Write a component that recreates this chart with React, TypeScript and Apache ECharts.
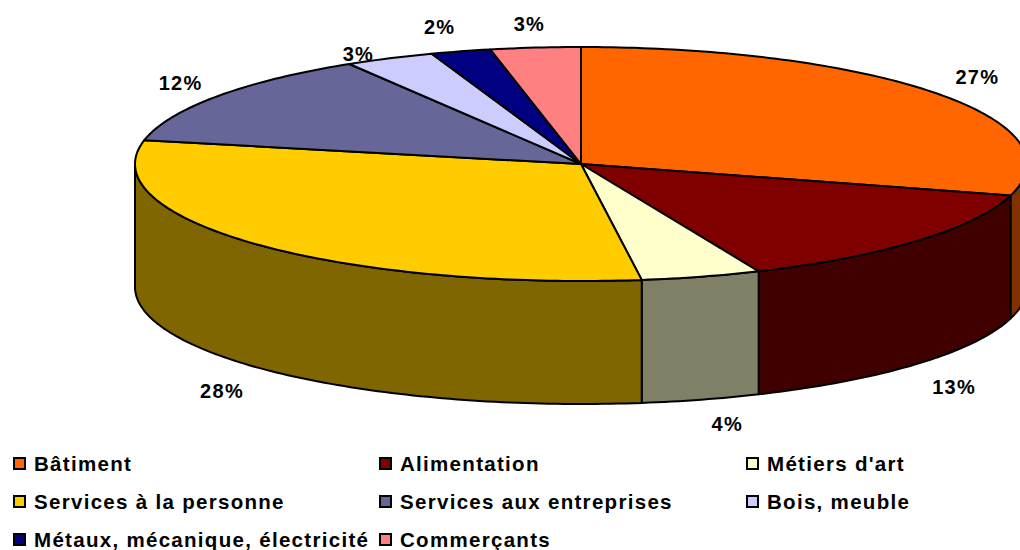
import React, { useEffect, useRef } from "react";
import * as echarts from "echarts";

const categories = [
  "Bâtiment",
  "Alimentation",
  "Métiers d'art",
  "Services à la personne",
  "Services aux entreprises",
  "Bois, meuble",
  "Métaux, mécanique, électricité",
  "Commerçants",
];
const values = [27, 13, 4, 28, 12, 3, 2, 3];
const topColors = ["#FF6600", "#800000", "#FFFFCC", "#FFCC00", "#666699", "#CCCCFF", "#000080", "#FF8080"];
const wallColors = ["#803300", "#400000", "#808066", "#806600", "#33334D", "#666680", "#000040", "#804040"];
const labelOffsets = [
  [41, -16],
  [37, 146],
  [26, 147],
  [-33, 147],
  [-36, -14],
  [-31, -4],
  [-21, -24],
  [-6, -24],
];
const legendColumns = [
  [categories[0], categories[3], categories[6]],
  [categories[1], categories[4], categories[7]],
  [categories[2], categories[5]],
];
const legendLefts = [13, 379, 746];

const CX = 581;
const CY = 164;
const RX = 446;
const RY = 117;
const DEPTH = 123;

const total = values.reduce((a, b) => a + b, 0);
const rad = (d: number) => (d * Math.PI) / 180;
const rim = (deg: number, dy = 0): number[] => [
  CX + RX * Math.sin(rad(deg)),
  CY - RY * Math.cos(rad(deg)) + dy,
];
const arc = (from: number, to: number, dy = 0): number[][] => {
  const out: number[][] = [];
  const n = Math.max(2, Math.ceil(Math.abs(to - from)));
  for (let i = 0; i <= n; i++) out.push(rim(from + ((to - from) * i) / n, dy));
  return out;
};

export default function App() {
  const ref = useRef<HTMLDivElement>(null);
  useEffect(() => {
    if (!ref.current) return;
    const chart = echarts.init(ref.current, undefined, { renderer: "svg" });
    let acc = 0;
    const series = values.map((v, i) => {
      const start = (acc / total) * 360;
      acc += v;
      const end = (acc / total) * 360;
      return {
        type: "custom",
        name: categories[i],
        coordinateSystem: "none",
        silent: true,
        itemStyle: { color: topColors[i] },
        data: [[v]],
        renderItem: () => {
          const children: any[] = [];
          const wa = Math.max(start, 90);
          const wb = Math.min(end, 270);
          if (wb > wa) {
            children.push({
              type: "polygon",
              shape: { points: [...arc(wa, wb), ...arc(wb, wa, DEPTH)] },
              style: { fill: wallColors[i], stroke: "#000", lineWidth: 2, lineJoin: "round" },
            });
          }
          children.push({
            type: "polygon",
            shape: { points: [[CX, CY], ...arc(start, end)] },
            style: { fill: topColors[i], stroke: "#000", lineWidth: 2, lineJoin: "round" },
          });
          const m = rim((start + end) / 2);
          children.push({
            type: "text",
            z2: 20,
            x: m[0] + labelOffsets[i][0],
            y: m[1] + labelOffsets[i][1],
            style: {
              text: `${v}%`,
              fill: "#000",
              font: "bold 20px 'Liberation Sans', Arial, sans-serif",
              textAlign: "center",
              textVerticalAlign: "middle",
            },
          });
          return { type: "group", children };
        },
      };
    });
    chart.setOption({
      animation: false,
      backgroundColor: "#fff",
      legend: legendColumns.map((col, i) => ({
        data: col,
        orient: "vertical",
        left: legendLefts[i],
        top: 453,
        height: 300,
        padding: 0,
        itemWidth: 11,
        itemHeight: 11,
        itemGap: 17,
        icon: "rect",
        selectedMode: false,
        itemStyle: { borderColor: "#000", borderWidth: 2 },
        textStyle: {
          color: "#000",
          fontFamily: "'Liberation Sans', Arial, sans-serif",
          fontWeight: "bold",
          fontSize: 20.5,
          lineHeight: 20,
          padding: [0, 0, 0, 4],
        },
      })),
      series,
    } as any);
    return () => chart.dispose();
  }, []);
  return (
    <div
      ref={ref}
      style={{ position: "absolute", left: 0, top: 0, width: 1020, height: 550, letterSpacing: "1.3px", overflow: "hidden" }}
    />
  );
}
